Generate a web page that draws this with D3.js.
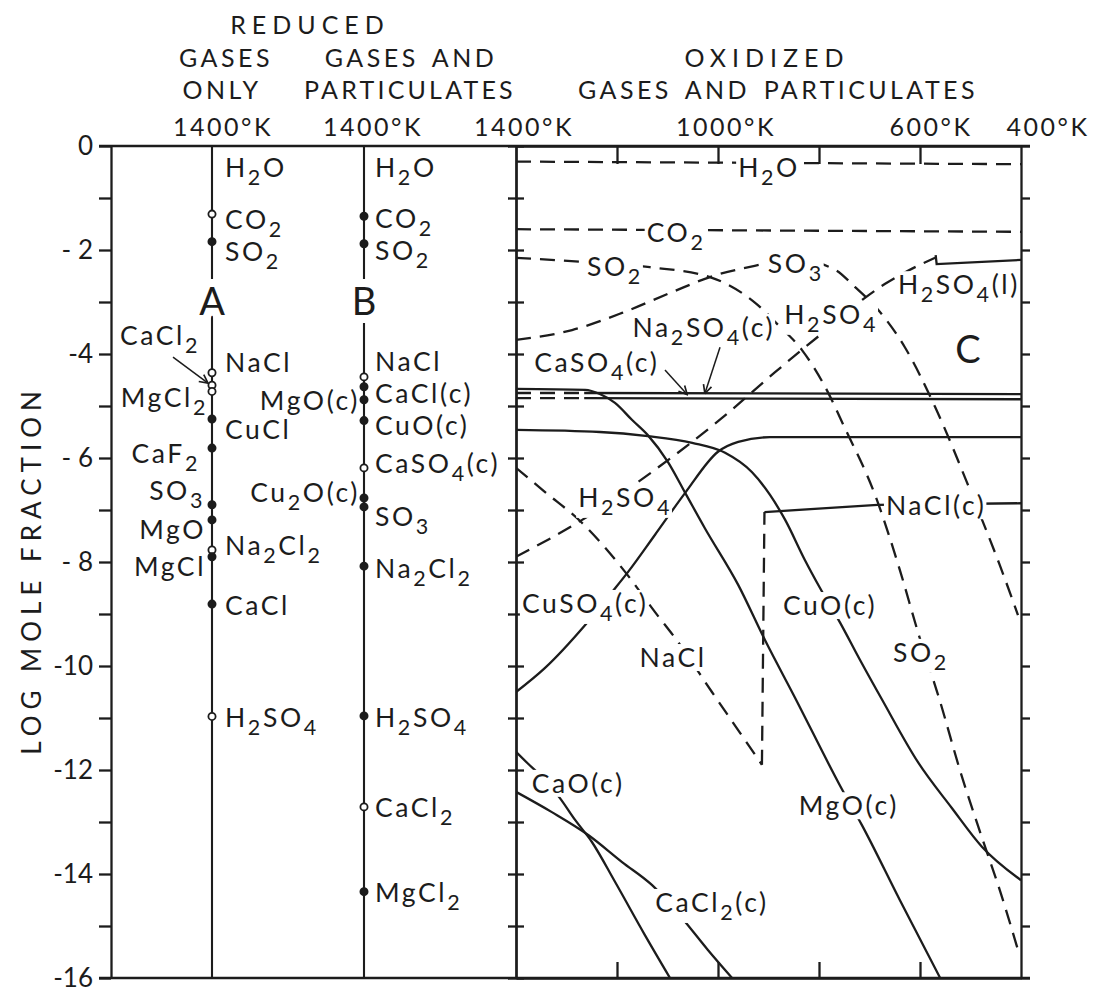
<!DOCTYPE html>
<html>
<head>
<meta charset="utf-8">
<script src="https://cdn.jsdelivr.net/npm/d3@7"></script>
<style>
  body { margin: 0; background: #fff; }
  text { font-family: Lato, "Open Sans", sans-serif; fill: #1c1c1c; }
</style>
</head>
<body>
<div id="chart"></div>
<script>
// ---- data (log mole fraction vs temperature) ----
const yTicks      = d3.range(0, -17, -1);
const yLabelVals  = [0, -2, -4, -6, -8, -10, -12, -14, -16];
const yLabelText  = ["0", "- 2", "-4", "- 6", "- 8", "-10", "-12", "-14", "-16"];
const tempInner   = [1200, 1000, 800, 600];
const tempLabelVals = [1400, 1000, 600, 400];
const tempLabelText = ["1400°K", "1000°K", "600°K", "400°K"];

// column A: reduced gases only, 1400 K  [species, log X, marker]
const speciesA = [
  ["H2O", -0.3, "none"], ["CO2", -1.31, "open"], ["SO2", -1.84, "filled"],
  ["NaCl", -4.36, "open"], ["CaCl2", -4.6, "open"], ["MgCl2", -4.72, "open"],
  ["CuCl", -5.25, "filled"], ["CaF2", -5.81, "filled"], ["SO3", -6.9, "filled"],
  ["MgO", -7.19, "filled"], ["Na2Cl2", -7.77, "open"], ["MgCl", -7.9, "filled"],
  ["CaCl", -8.81, "filled"], ["H2SO4", -10.97, "open"]
];
// column B: reduced gases and particulates, 1400 K
const speciesB = [
  ["H2O", -0.3, "none"], ["CO2", -1.35, "filled"], ["SO2", -1.88, "filled"],
  ["NaCl", -4.44, "open"], ["CaCl(c)", -4.63, "filled"], ["MgO(c)", -4.88, "filled"],
  ["CuO(c)", -5.28, "filled"], ["CaSO4(c)", -6.19, "open"], ["Cu2O(c)", -6.77, "filled"],
  ["SO3", -6.94, "filled"], ["Na2Cl2", -8.08, "filled"], ["H2SO4", -10.96, "filled"],
  ["CaCl2", -12.71, "open"], ["MgCl2", -14.34, "filled"]
];

// panel C: oxidized, [T (K), log X]
const h2oC    = [[1400, -0.3], [400, -0.35]];
const co2C    = [[1400, -1.6], [400, -1.65]];
const so2C    = [[1400, -2.15], [1313, -2.2], [1135, -2.33], [1016, -2.52], [921, -3.06], [881, -3.44],
                 [834, -3.92], [788, -4.63], [749, -5.42], [689, -6.71], [640, -8.15], [604, -9.35],
                 [560, -10.69], [521, -12.0], [477, -13.31], [442, -14.31], [406, -15.46]];
const so3C    = [[1400, -3.73], [1289, -3.54], [1190, -3.21], [1091, -2.81], [1016, -2.52], [901, -2.25],
                 [857, -2.16], [768, -2.38], [729, -2.71], [683, -3.15], [630, -3.87], [570, -5.02],
                 [497, -6.71], [442, -8.06], [406, -9.02]];
const h2so4C  = [[1400, -7.9], [1269, -7.19], [1131, -6.27], [992, -5.23], [887, -4.35], [834, -3.92],
                 [768, -3.4], [709, -2.92], [669, -2.65], [624, -2.4], [570, -2.15]];
const h2so4L  = [[569, -2.1], [567, -2.27], [400, -2.19]];
const na2so4Gas = [[1400, -4.75], [1265, -4.75]];
const na2so4C = [[1265, -4.75], [400, -4.77]];
const caso4Gas = [[1400, -4.85], [1265, -4.85]];
const caso4C  = [[1265, -4.85], [400, -4.87]];
const mgoC    = [[1400, -4.67], [1263, -4.69], [1234, -4.77], [1204, -4.94], [1170, -5.27], [1139, -5.56],
                 [1099, -6.08], [1065, -6.67], [1026, -7.35], [960, -8.44], [907, -9.5], [848, -10.6],
                 [754, -12.38], [715, -13.06], [640, -14.5], [560, -16.0]];
const cuoC    = [[1400, -5.46], [1234, -5.5], [1139, -5.58], [1051, -5.71], [986, -5.9], [933, -6.27],
                 [897, -6.71], [867, -7.19], [828, -7.96], [798, -8.5], [758, -9.17], [719, -9.88],
                 [675, -10.65], [604, -11.85], [537, -12.73], [477, -13.48], [400, -14.12]];
const cuso4C  = [[1400, -10.5], [1343, -10.04], [1263, -9.21], [1210, -8.58], [1178, -8.19], [1125, -7.48],
                 [1065, -6.67], [1000, -5.88], [960, -5.69], [897, -5.6], [400, -5.6]];
const naclGas = [[1400, -6.19], [1343, -6.65], [1269, -7.25], [1184, -8.19], [1125, -8.96], [1079, -9.54],
                 [1012, -10.5], [956, -11.29], [913, -11.9]];
const naclJump = [[913, -11.9], [908, -7.04]];
const naclC   = [[908, -7.04], [684, -6.9], [400, -6.87]];
const caoC    = [[1400, -11.65], [1376, -11.88], [1343, -12.19], [1313, -12.54], [1283, -12.96],
                 [1250, -13.38], [1204, -14.15], [1145, -15.17], [1095, -16.0]];
const cacl2C  = [[1400, -12.42], [1329, -12.81], [1257, -13.25], [1190, -13.77], [1131, -14.21],
                 [1071, -14.85], [1020, -15.46], [972, -16.0]];

// ---- layout ----
const W = 1096, H = 991;
const INK = "#1c1c1c";
const FS = 26.5;
const X0 = 111;
const colX = { A: 212, B: 364 };
const y = d3.scaleLinear().domain([0, -16]).range([146, 978]);
const x = d3.scaleLinear().domain([1400, 400]).range([516, 1021]);

const svg = d3.select("#chart").append("svg").attr("width", W).attr("height", H);
svg.append("rect").attr("width", W).attr("height", H).attr("fill", "#fff");

const defs = svg.append("defs");
defs.append("clipPath").attr("id", "clipC").append("rect")
    .attr("x", x(1400)).attr("y", y(0)).attr("width", x(400) - x(1400)).attr("height", y(-16) - y(0));
defs.append("marker").attr("id", "ah").attr("viewBox", "0 0 10 10")
    .attr("refX", 9).attr("refY", 5).attr("markerWidth", 7).attr("markerHeight", 7).attr("orient", "auto")
  .append("path").attr("d", "M1,1 L9,5 L1,9").attr("fill", "none").attr("stroke", INK).attr("stroke-width", 1.6);

// chemical formula with subscripts
const SUB = 8;
function chem(t, s) {
  let down = false;
  s.match(/\d+|[^\d]+/g).forEach(p => {
    const sp = t.append("tspan").text(p);
    if (/^\d+$/.test(p)) { sp.attr("font-size", FS - 5).attr("dy", down ? 0 : SUB); down = true; }
    else if (down) { sp.attr("dy", -SUB); down = false; }
  });
  return t;
}
function label(g, s, px, py, anchor, knock) {
  const t = g.append("text").attr("x", px).attr("y", py)
    .attr("text-anchor", anchor).attr("font-size", FS).attr("letter-spacing", 2.6);
  chem(t, s);
  if (knock) {
    const b = t.node().getBBox();
    g.insert("rect", () => t.node())
     .attr("x", b.x - 2).attr("y", b.y + 3).attr("width", b.width + 2).attr("height", b.height - 5)
     .attr("fill", "#fff");
  }
  return t;
}

// ---- frame & axes ----
const styleAxis = g => {
  g.attr("color", INK);
  g.selectAll("path, line").attr("stroke-width", 2.3);
  g.selectAll("text").attr("font-size", 26).attr("font-family", "Lato, 'Open Sans', sans-serif").attr("fill", INK);
};
svg.append("g").attr("transform", `translate(${X0},0)`)
   .call(d3.axisLeft(y).tickValues(yTicks).tickSize(12).tickSizeOuter(0).tickPadding(6)
         .tickFormat(d => { const i = yLabelVals.indexOf(d); return i < 0 ? "" : yLabelText[i]; }))
   .call(styleAxis);

[y(0), y(-16)].forEach(yy => {
  svg.append("line").attr("x1", X0 - 12).attr("x2", x(400) + 9).attr("y1", yy).attr("y2", yy)
     .attr("stroke", INK).attr("stroke-width", 2.5);
});

svg.append("g").attr("transform", `translate(${x(1400)},0)`)
   .call(d3.axisLeft(y).tickValues(yTicks).tickSize(8).tickSizeOuter(0).tickFormat("")).call(styleAxis);
svg.append("g").attr("transform", `translate(${x(1400)},0)`)
   .call(d3.axisRight(y).tickValues(yTicks).tickSize(8).tickSizeOuter(0).tickFormat("")).call(styleAxis);
svg.append("g").attr("transform", `translate(${x(400)},0)`)
   .call(d3.axisRight(y).tickValues(yTicks).tickSize(9).tickSizeOuter(0).tickFormat("")).call(styleAxis);
svg.append("g").attr("transform", `translate(0,${y(0)})`)
   .call(d3.axisBottom(x).tickValues(tempInner).tickSize(18).tickSizeOuter(0).tickFormat("")).call(styleAxis);
svg.append("g").attr("transform", `translate(0,${y(-16)})`)
   .call(d3.axisTop(x).tickValues(tempInner).tickSize(16).tickSizeOuter(0).tickFormat("")).call(styleAxis);

// axis title
svg.append("text").attr("transform", "translate(41,570) rotate(-90)")
   .attr("text-anchor", "middle").attr("font-size", 26).attr("letter-spacing", 6)
   .text("LOG MOLE FRACTION");

// header
const header = [
  ["REDUCED", 310, 34, 6], ["GASES", 226, 67, 3.5], ["ONLY", 222, 99, 3.5],
  ["GASES AND", 411, 67, 3.5], ["PARTICULATES", 410, 99, 3.2],
  ["OXIDIZED", 767, 67, 6], ["GASES AND PARTICULATES", 778, 99, 3.4]
];
header.forEach(([s, hx, hy, ls]) => {
  svg.append("text").attr("x", hx).attr("y", hy).attr("text-anchor", "middle")
     .attr("font-size", 25).attr("letter-spacing", ls).attr("word-spacing", 4).text(s);
});
const tempShift = { 1400: 8, 1000: 8, 600: 11, 400: 27 };
tempLabelVals.forEach((t, i) => {
  svg.append("text").attr("x", x(t) + tempShift[t]).attr("y", 136).attr("text-anchor", "middle")
     .attr("font-size", 25).attr("letter-spacing", 2.5).text(tempLabelText[i]);
});
[["A", 11], ["B", 9]].forEach(([c, sh]) => {
  svg.append("text").attr("x", colX[c] + sh).attr("y", 136).attr("text-anchor", "middle")
     .attr("font-size", 25).attr("letter-spacing", 2.5).text("1400°K");
});

// ---- columns A and B ----
const layoutA = {
  H2O: ["r", 15], CO2: ["r", 15], SO2: ["r", 19], NaCl: ["r", -1], CaCl2: ["l", -40, -12],
  MgCl2: ["l", 16, -4], CuCl: ["r", 20], CaF2: ["l", 15, -12], SO3: ["l", -5, -7],
  MgO: ["l", 19, -6], Na2Cl2: ["r", 5], MgCl: ["l", 19, -6], CaCl: ["r", 11], H2SO4: ["r", 11]
};
const layoutB = {
  H2O: ["r", 15], CO2: ["r", 12], SO2: ["r", 16], NaCl: ["r", -6], "CaCl(c)": ["r", 16],
  "MgO(c)": ["l", 10, -4], "CuO(c)": ["r", 14], "CaSO4(c)": ["r", 5], "Cu2O(c)": ["l", 4, -4],
  SO3: ["r", 19], Na2Cl2: ["r", 12], H2SO4: ["r", 11], CaCl2: ["r", 10], MgCl2: ["r", 10]
};
const gCols = svg.append("g");
[["A", speciesA, layoutA, 13], ["B", speciesB, layoutB, 11]].forEach(([c, spec, lay, rdx]) => {
  const cx = colX[c];
  gCols.append("line").attr("x1", cx).attr("x2", cx).attr("y1", y(0)).attr("y2", y(-16))
       .attr("stroke", INK).attr("stroke-width", 2.1);
  gCols.append("text").attr("x", cx).attr("y", y(-3.25)).attr("text-anchor", "middle")
       .attr("font-size", 38).attr("stroke", "#fff").attr("stroke-width", 16)
       .attr("paint-order", "stroke").text(c);
  spec.forEach(([s, v, m]) => {
    const [side, dy, dx] = lay[s];
    if (m !== "none") {
      gCols.append("circle").attr("cx", cx).attr("cy", y(v)).attr("r", 3.6)
           .attr("fill", m === "filled" ? INK : "#fff").attr("stroke", INK).attr("stroke-width", 1.8);
    }
    if (side === "r") label(gCols, s, cx + rdx, y(v) + dy, "start");
    else label(gCols, s, cx + dx, y(v) + dy, "end");
  });
});
// arrow from CaCl2 label in column A
gCols.append("line").attr("x1", colX.A - 39).attr("y1", y(-4.06)).attr("x2", colX.A - 4).attr("y2", y(-4.56))
     .attr("stroke", INK).attr("stroke-width", 1.5).attr("marker-end", "url(#ah)");

// ---- panel C curves ----
const dashed = new Set(["h2o", "co2", "so2", "so3", "h2so4", "naclGas", "naclJump", "na2so4Gas", "caso4Gas"]);
const straight = new Set(["h2so4L", "naclJump", "naclC", "na2so4Gas", "na2so4C", "caso4Gas", "caso4C", "h2o", "co2"]);
const seriesC = [
  ["h2o", h2oC], ["co2", co2C], ["so2", so2C], ["so3", so3C], ["h2so4", h2so4C], ["h2so4L", h2so4L],
  ["na2so4Gas", na2so4Gas], ["na2so4C", na2so4C], ["caso4Gas", caso4Gas], ["caso4C", caso4C],
  ["mgo", mgoC], ["cuo", cuoC], ["cuso4", cuso4C], ["naclGas", naclGas], ["naclJump", naclJump],
  ["naclC", naclC], ["cao", caoC], ["cacl2", cacl2C]
];
const gC = svg.append("g").attr("clip-path", "url(#clipC)");
seriesC.forEach(([k, pts]) => {
  const line = d3.line().x(d => x(d[0])).y(d => y(d[1]))
                 .curve(straight.has(k) ? d3.curveLinear : d3.curveMonotoneX);
  gC.append("path").attr("d", line(pts)).attr("fill", "none").attr("stroke", INK)
    .attr("stroke-width", 2.3).attr("stroke-dasharray", dashed.has(k) ? "15,9" : null);
});

// panel C labels (anchor = text centre, baseline)
const labelC = [
  ["H2O", 899, -0.6], ["CO2", 1083, -1.85], ["SO2", 1204, -2.5], ["SO3", 846, -2.44],
  ["H2SO4(l)", 523, -2.85], ["H2SO4", 776, -3.42], ["Na2SO4(c)", 1028, -3.67],
  ["CaSO4(c)", 1240, -4.35], ["H2SO4", 1184, -6.94], ["NaCl(c)", 568, -7.1],
  ["CuSO4(c)", 1263, -8.98], ["CuO(c)", 778, -9.02], ["NaCl", 1089, -10.02],
  ["SO2", 598, -9.92], ["CaO(c)", 1277, -12.44], ["MgO(c)", 741, -12.87], ["CaCl2(c)", 1012, -14.73]
];
const gL = svg.append("g");
labelC.forEach(([s, t, v]) => label(gL, s, x(t), y(v), "middle", true));
gL.append("text").attr("x", x(505)).attr("y", y(-4.17)).attr("text-anchor", "middle")
  .attr("font-size", 38).text("C");

// pointer arrows for CaSO4(c) / Na2SO4(c)
[[1105, -4.31, 1061, -4.78], [996, -3.87, 1026, -4.76]].forEach(([t1, v1, t2, v2]) => {
  svg.append("line").attr("x1", x(t1)).attr("y1", y(v1)).attr("x2", x(t2)).attr("y2", y(v2))
     .attr("stroke", INK).attr("stroke-width", 1.5).attr("marker-end", "url(#ah)");
});
</script>
</body>
</html>
